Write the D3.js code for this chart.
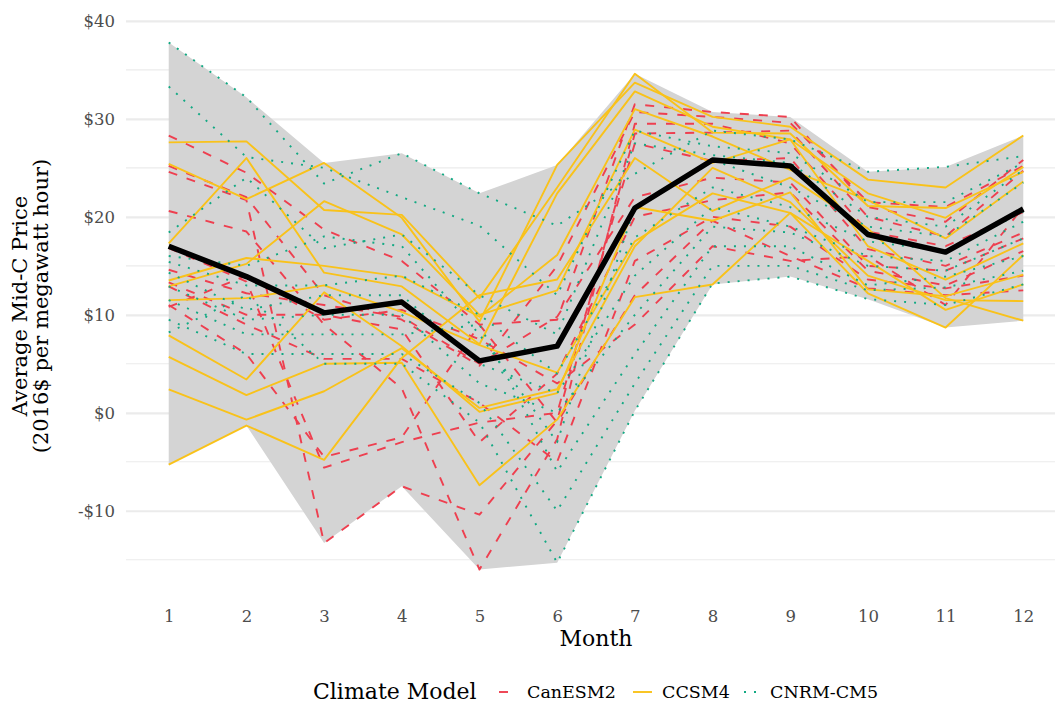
<!DOCTYPE html>
<html>
<head>
<meta charset="utf-8">
<script src="https://cdn.jsdelivr.net/npm/d3@7"></script>
<style>
  html, body { margin: 0; padding: 0; background: #ffffff; }
  svg { display: block; }
  text { font-family: "DejaVu Serif", serif; }
</style>
</head>
<body>
<svg id="chart" width="1055" height="705"></svg>
<script>
// ---------------- data ----------------
const months = [1, 2, 3, 4, 5, 6, 7, 8, 9, 10, 11, 12];
const monthLabels = ["1", "2", "3", "4", "5", "6", "7", "8", "9", "10", "11", "12"];

const yMajorTicks = [-10, 0, 10, 20, 30, 40];
const yMajorLabels = ["-$10", "$0", "$10", "$20", "$30", "$40"];
const yMinorTicks = [-15, -5, 5, 15, 25, 35];

const modelNames = ["CanESM2", "CCSM4", "CNRM-CM5"];

// CanESM2 runs (red dashed)
const canesm2Runs = [
  [28.3, 24.5, 18.7, 15.5, 9.0, 9.5, 31.5, 30.7, 30.2, 21.0, 19.5, 25.8],
  [25.2, 22.0, 12.0, 9.5, 4.8, 15.0, 30.7, 30.2, 29.6, 21.5, 21.0, 25.2],
  [24.6, 21.7, -13.3, -7.5, -10.4, -0.8, 28.5, 28.6, 28.8, 20.0, 18.0, 24.7],
  [20.6, 18.5, 9.0, 2.5, -16.0, -2.7, 29.5, 29.5, 27.5, 18.5, 17.0, 20.5],
  [16.8, 13.4, -5.6, -3.0, -1.0, 0.0, 27.5, 25.7, 26.0, 16.7, 15.0, 18.4],
  [14.6, 12.2, 11.0, 9.8, 5.0, 9.8, 22.0, 24.0, 23.5, 15.0, 14.5, 17.8],
  [13.3, 10.0, 10.0, 8.5, -3.0, 4.0, 20.0, 21.7, 22.5, 14.5, 13.0, 16.5],
  [12.9, 9.0, 5.5, 5.5, 1.0, -5.0, 15.5, 20.0, 19.0, 13.6, 12.7, 14.0],
  [11.0, 6.0, -4.5, -2.5, 9.0, -1.0, 12.0, 19.6, 16.0, 12.7, 12.0, 12.5],
  [10.8, 14.0, 9.5, 10.5, 7.5, 3.0, 9.0, 17.0, 15.5, 16.0, 11.0, 21.0]
];

// CCSM4 runs (yellow solid)
const ccsm4Runs = [
  [27.6, 27.7, 20.7, 20.2, 11.7, 23.0, 34.6, 28.6, 28.5, 21.1, 20.9, 24.6],
  [25.4, 21.8, 25.5, 19.9, 9.3, 25.3, 33.7, 30.2, 29.2, 23.8, 23.0, 28.3],
  [17.3, 26.0, 14.3, 12.9, 7.0, 22.4, 32.8, 29.2, 27.9, 22.4, 19.9, 25.1],
  [13.5, 15.8, 15.0, 13.9, 9.8, 16.1, 31.0, 28.2, 24.8, 21.7, 17.8, 23.6],
  [12.9, 15.2, 21.6, 18.2, 10.0, 12.5, 28.9, 25.5, 27.9, 17.0, 13.6, 17.3],
  [11.5, 11.7, 13.0, 10.3, 6.9, 4.1, 17.5, 22.4, 20.4, 12.2, 8.7, 16.1],
  [7.9, 3.4, 12.3, 6.8, 0.1, 2.0, 21.0, 19.6, 22.5, 12.6, 11.9, 14.1],
  [5.7, 1.8, 5.0, 5.1, -7.4, -0.7, 11.8, 13.1, 20.4, 15.5, 10.5, 13.1],
  [2.4, -0.7, 2.2, 6.6, 0.5, 2.4, 17.0, 25.0, 21.5, 14.0, 11.5, 11.4],
  [-5.3, -1.3, -4.8, 5.6, 12.0, 13.6, 26.0, 20.6, 24.0, 18.8, 11.7, 9.4]
];

// CNRM-CM5 runs (green dotted)
const cnrmRuns = [
  [37.8, 32.2, 23.4, 26.5, 22.4, 19.1, 24.4, 28.8, 27.9, 24.6, 25.1, 26.2],
  [33.3, 26.1, 25.0, 22.0, 19.1, 12.0, 28.8, 27.2, 26.5, 21.5, 21.5, 25.5],
  [18.4, 24.0, 16.8, 18.2, 12.0, 8.0, 27.5, 26.3, 25.5, 20.0, 19.0, 24.8],
  [16.0, 15.0, 18.0, 17.0, 8.0, -3.0, 21.0, 25.8, 23.0, 19.0, 18.0, 23.5],
  [15.4, 13.0, 13.0, 14.0, 10.0, 4.0, 17.9, 23.0, 21.0, 17.5, 16.5, 20.5],
  [14.3, 10.5, 12.0, 12.0, 5.0, 2.0, 14.0, 21.0, 19.0, 16.0, 15.5, 19.5],
  [12.9, 9.5, 10.0, 10.0, 3.0, 0.0, 10.0, 19.0, 18.4, 15.0, 14.5, 17.8],
  [11.5, 8.0, 8.0, 8.0, 9.0, -6.0, 6.0, 17.0, 17.0, 13.0, 13.9, 16.0],
  [9.5, 6.0, 6.0, 6.0, 1.0, -10.0, 3.0, 15.0, 15.0, 12.5, 12.8, 14.5],
  [8.2, 12.0, 5.0, 5.0, -1.0, -15.3, 0.2, 13.2, 13.9, 11.6, 11.0, 13.1]
];

// ensemble mean (black line)
const meanPrice = [17.0, 13.9, 10.2, 11.3, 5.3, 6.8, 20.9, 25.8, 25.2, 18.2, 16.4, 20.8];

// ---------------- layout ----------------
const panel = { left: 126, right: 1066, top: 16, bottom: 596 };

const svg = d3.select("#chart");

const x = d3.scaleLinear().domain([0.45, 12.55]).range([panel.left, panel.right]);
const y = d3.scaleLinear().domain([-18.7, 40.5]).range([panel.bottom, panel.top]);

const styles = {
  "CanESM2": { color: "#EE3F4F", dash: "9,10" },
  "CCSM4": { color: "#F9C21A", dash: null },
  "CNRM-CM5": { color: "#12A983", dash: "2,8" }
};

const allRuns = [];
canesm2Runs.forEach(r => allRuns.push({ model: "CanESM2", values: r }));
ccsm4Runs.forEach(r => allRuns.push({ model: "CCSM4", values: r }));
cnrmRuns.forEach(r => allRuns.push({ model: "CNRM-CM5", values: r }));

// ---------------- grid ----------------
const grid = svg.append("g");
grid.selectAll("line.minor").data(yMinorTicks).join("line")
  .attr("class", "minor")
  .attr("x1", panel.left).attr("x2", panel.right)
  .attr("y1", d => y(d)).attr("y2", d => y(d))
  .attr("stroke", "#ebebeb").attr("stroke-width", 1.1);

const yAxis = d3.axisLeft(y)
  .tickValues(yMajorTicks)
  .tickFormat((d, i) => yMajorLabels[i])
  .tickSize(-(panel.right - panel.left))
  .tickPadding(11);
const yg = svg.append("g").attr("transform", `translate(${panel.left},0)`).call(yAxis);
yg.select(".domain").remove();
yg.selectAll(".tick line").attr("stroke", "#ebebeb").attr("stroke-width", 2.2);
yg.selectAll(".tick text")
  .attr("fill", "#4d4d4d")
  .style("font-family", "'DejaVu Serif', serif")
  .style("font-size", "16.5px");

const xAxis = d3.axisBottom(x)
  .tickValues(months)
  .tickFormat((d, i) => monthLabels[i])
  .tickSize(0)
  .tickPadding(14);
const xg = svg.append("g").attr("transform", `translate(0,${panel.bottom})`).call(xAxis);
xg.select(".domain").remove();
xg.selectAll(".tick text")
  .attr("fill", "#4d4d4d")
  .style("font-family", "'DejaVu Serif', serif")
  .style("font-size", "16.5px");

// ---------------- ribbon (range of all runs) ----------------
const ribbonLow = months.map((m, i) => d3.min(allRuns, r => r.values[i]));
const ribbonHigh = months.map((m, i) => d3.max(allRuns, r => r.values[i]));

const area = d3.area()
  .x((d, i) => x(months[i]))
  .y0((d, i) => y(ribbonLow[i]))
  .y1((d, i) => y(ribbonHigh[i]));
svg.append("path")
  .datum(months)
  .attr("d", area)
  .attr("fill", "#d4d4d4");

// ---------------- runs ----------------
const line = d3.line()
  .x((d, i) => x(months[i]))
  .y(d => y(d));

const runG = svg.append("g");
runG.selectAll("path").data(allRuns).join("path")
  .attr("d", d => line(d.values))
  .attr("fill", "none")
  .attr("stroke", d => styles[d.model].color)
  .attr("stroke-width", 1.9)
  .attr("stroke-dasharray", d => styles[d.model].dash)
  .attr("stroke-linejoin", "round");

// ---------------- mean ----------------
svg.append("path")
  .datum(meanPrice)
  .attr("d", line)
  .attr("fill", "none")
  .attr("stroke", "#000000")
  .attr("stroke-width", 5.5)
  .attr("stroke-linejoin", "round")
  .attr("stroke-linecap", "butt");

// ---------------- titles ----------------
svg.append("text")
  .attr("x", (panel.left + panel.right) / 2)
  .attr("y", 646)
  .attr("text-anchor", "middle")
  .attr("fill", "#000")
  .style("font-size", "22px")
  .text("Month");

const yTitle = svg.append("text")
  .attr("transform", `translate(0,${(panel.top + panel.bottom) / 2}) rotate(-90)`)
  .attr("text-anchor", "middle")
  .attr("fill", "#000")
  .style("font-size", "21px");
yTitle.append("tspan").attr("x", 0).attr("y", 27).text("Average Mid-C Price");
yTitle.append("tspan").attr("x", 0).attr("y", 48).text("(2016$ per megawatt hour)");

// ---------------- legend ----------------
const legend = svg.append("g");
legend.append("text")
  .attr("x", 313).attr("y", 699)
  .attr("fill", "#000")
  .style("font-size", "22px")
  .text("Climate Model");

const legendItems = [
  { model: "CanESM2", keyX: 499, textX: 527 },
  { model: "CCSM4", keyX: 633, textX: 662 },
  { model: "CNRM-CM5", keyX: 744, textX: 770 }
];
legendItems.forEach(it => {
  legend.append("line")
    .attr("x1", it.keyX).attr("x2", it.keyX + 19)
    .attr("y1", 692).attr("y2", 692)
    .attr("stroke", styles[it.model].color)
    .attr("stroke-width", 1.9)
    .attr("stroke-dasharray", styles[it.model].dash);
  legend.append("text")
    .attr("x", it.textX).attr("y", 698)
    .attr("fill", "#000")
    .style("font-size", "17.5px")
    .text(it.model);
});
</script>
</body>
</html>
